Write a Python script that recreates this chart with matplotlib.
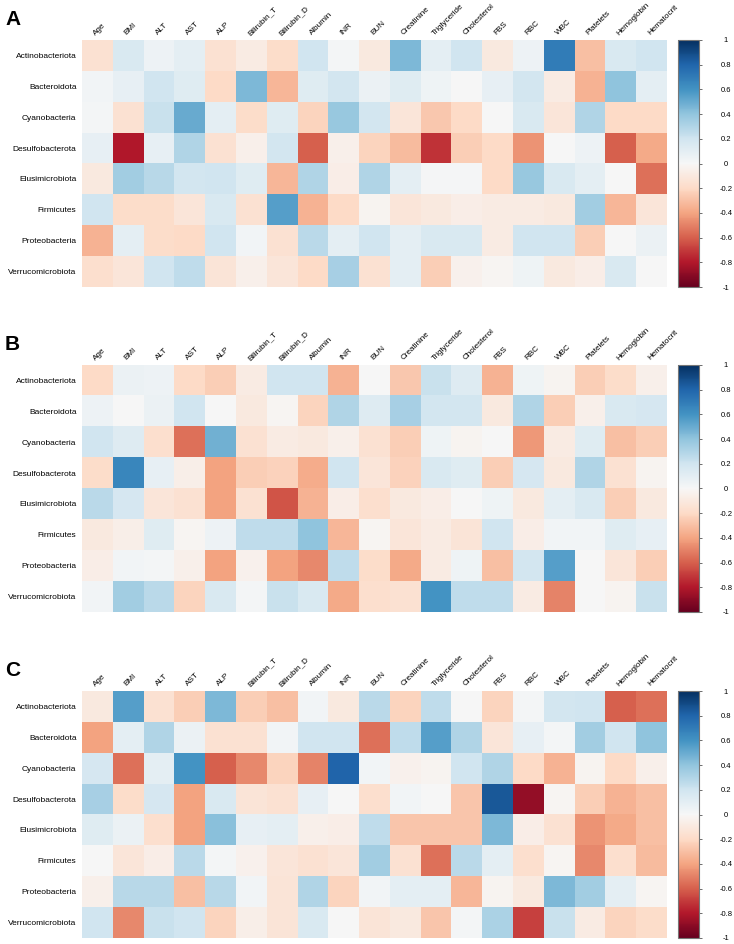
import numpy as np
import matplotlib
matplotlib.use("Agg")
import matplotlib.pyplot as plt

plt.rcParams['font.family'] = ['Liberation Sans', 'DejaVu Sans']

phyla = ["Actinobacteriota", "Bacteroidota", "Cyanobacteria", "Desulfobacterota",
         "Elusimicrobiota", "Firmicutes", "Proteobacteria", "Verrucomicrobiota"]
clinical = ["Age", "BMI", "ALT", "AST", "ALP", "Bilirubin_T", "Bilirubin_D", "Albumin",
            "INR", "BUN", "Creatinine", "Triglyceride", "Cholesterol", "FBS", "RBC",
            "WBC", "Platelets", "Hemoglobin", "Hematocrit"]

corr_a = [
    [-0.15, 0.15, 0.05, 0.10, -0.15, -0.08, -0.18, 0.20, 0.02, -0.10, 0.45, 0.10, 0.20, -0.10, 0.05, 0.70, -0.30, 0.15, 0.20],
    [0.03, 0.08, 0.20, 0.12, -0.20, 0.45, -0.33, 0.12, 0.18, 0.06, 0.12, 0.04, 0.00, 0.08, 0.18, -0.08, -0.35, 0.40, 0.10],
    [0.02, -0.15, 0.22, 0.50, 0.10, -0.18, 0.12, -0.22, 0.38, 0.18, -0.12, -0.27, -0.20, 0.00, 0.15, -0.12, 0.30, -0.20, -0.20],
    [0.08, -0.80, 0.08, 0.30, -0.15, -0.05, 0.18, -0.60, -0.05, -0.22, -0.32, -0.72, -0.25, -0.20, -0.45, 0.00, 0.05, -0.60, -0.38],
    [-0.10, 0.35, 0.28, 0.18, 0.20, 0.12, -0.33, 0.30, -0.07, 0.30, 0.10, 0.01, 0.01, -0.20, 0.38, 0.15, 0.10, 0.00, -0.55],
    [0.20, -0.18, -0.18, -0.12, 0.15, -0.15, 0.55, -0.35, -0.20, -0.03, -0.12, -0.10, -0.07, -0.08, -0.08, -0.10, 0.35, -0.33, -0.12],
    [-0.35, 0.10, -0.18, -0.20, 0.20, 0.03, -0.15, 0.27, 0.10, 0.20, 0.10, 0.15, 0.15, -0.08, 0.20, 0.20, -0.25, 0.00, 0.06],
    [-0.17, -0.12, 0.20, 0.25, -0.13, -0.05, -0.12, -0.20, 0.33, -0.15, 0.10, -0.25, -0.04, -0.02, 0.04, -0.10, -0.07, 0.15, 0.00],
]

corr_b = [
    [-0.20, 0.06, 0.05, -0.20, -0.25, -0.08, 0.20, 0.20, -0.35, 0.00, -0.27, 0.22, 0.13, -0.35, 0.04, -0.03, -0.25, -0.18, -0.05],
    [0.05, 0.00, 0.06, 0.20, 0.00, -0.10, -0.02, -0.22, 0.30, 0.13, 0.33, 0.18, 0.18, -0.10, 0.30, -0.25, -0.05, 0.15, 0.17],
    [0.20, 0.13, -0.17, -0.55, 0.48, -0.15, -0.08, -0.10, -0.05, -0.15, -0.25, 0.04, -0.03, 0.00, -0.43, -0.08, 0.12, -0.30, -0.25],
    [-0.18, 0.65, 0.08, -0.06, -0.40, -0.25, -0.23, -0.37, 0.20, -0.12, -0.23, 0.15, 0.12, -0.25, 0.17, -0.10, 0.30, -0.15, -0.03],
    [0.27, 0.17, -0.12, -0.15, -0.40, -0.15, -0.63, -0.35, -0.07, -0.17, -0.10, -0.07, 0.00, 0.04, -0.10, 0.10, 0.15, -0.25, -0.10],
    [-0.10, -0.06, 0.12, -0.02, 0.05, 0.25, 0.25, 0.40, -0.33, -0.02, -0.12, -0.08, -0.13, 0.20, -0.07, 0.03, 0.03, 0.12, 0.08],
    [-0.07, 0.03, 0.02, -0.05, -0.40, -0.04, -0.40, -0.48, 0.25, -0.18, -0.38, -0.08, 0.04, -0.30, 0.18, 0.55, 0.00, -0.12, -0.25],
    [0.03, 0.35, 0.27, -0.22, 0.15, 0.02, 0.22, 0.15, -0.38, -0.17, -0.15, 0.60, 0.25, 0.25, -0.08, -0.50, 0.00, -0.03, 0.22],
]

corr_c = [
    [-0.10, 0.55, -0.15, -0.25, 0.45, -0.25, -0.30, 0.03, -0.10, 0.27, -0.22, 0.25, 0.00, -0.22, 0.02, 0.18, 0.20, -0.60, -0.55],
    [-0.40, 0.10, 0.30, 0.06, -0.15, -0.15, 0.03, 0.20, 0.20, -0.55, 0.25, 0.55, 0.30, -0.12, 0.08, 0.02, 0.35, 0.20, 0.40],
    [0.17, -0.55, 0.10, 0.60, -0.60, -0.48, -0.22, -0.50, 0.80, 0.03, -0.04, -0.03, 0.20, 0.30, -0.20, -0.35, -0.03, -0.20, -0.05],
    [0.33, -0.18, 0.17, -0.40, 0.15, -0.13, -0.15, 0.08, 0.00, -0.17, 0.03, 0.00, -0.28, 0.85, -0.88, -0.02, -0.25, -0.35, -0.30],
    [0.12, 0.06, -0.17, -0.40, 0.42, 0.08, 0.10, -0.05, -0.07, 0.25, -0.28, -0.28, -0.28, 0.45, -0.07, -0.15, -0.45, -0.38, -0.30],
    [0.00, -0.12, -0.07, 0.27, 0.02, -0.04, -0.12, -0.15, -0.12, 0.35, -0.15, -0.55, 0.27, 0.10, -0.17, -0.02, -0.48, -0.17, -0.32],
    [-0.05, 0.28, 0.28, -0.30, 0.28, 0.03, -0.13, 0.30, -0.22, 0.03, 0.10, 0.10, -0.33, -0.03, -0.10, 0.45, 0.35, 0.10, -0.02],
    [0.20, -0.48, 0.22, 0.20, -0.22, -0.06, -0.13, 0.15, 0.00, -0.13, -0.10, -0.28, 0.02, 0.32, -0.68, 0.22, -0.08, -0.22, -0.18],
]

panels = ["A", "B", "C"]
tops = [40, 365, 691]
W, H = 734, 944


def px_axes(fig, left, top, width, height):
    return fig.add_axes([left / W, (H - top - height) / H, width / W, height / H])


fig = plt.figure(figsize=(W / 100, H / 100), dpi=100)

for letter, top, data in zip(panels, tops, [corr_a, corr_b, corr_c]):
    mat = np.array(data)
    ax = px_axes(fig, 82, top, 585, 247)
    im = ax.imshow(mat, cmap="RdBu", vmin=-1, vmax=1, aspect="auto", interpolation="nearest")
    ax.set_xlim(-0.5, len(clinical) - 0.5)
    ax.set_ylim(len(phyla) - 0.5, -0.5)
    for s in ax.spines.values():
        s.set_visible(False)
    ax.set_xticks([])
    ax.set_yticks(range(len(phyla)))
    ax.set_yticklabels(phyla, fontsize=6.0)
    ax.tick_params(axis="y", length=0, pad=4)
    for j, name in enumerate(clinical):
        ax.text(j, -0.6, name, rotation=45, rotation_mode="anchor",
                ha="left", va="bottom", fontsize=5.9)

    cax = px_axes(fig, 678, top, 21, 247)
    cb = fig.colorbar(im, cax=cax)
    cb.outline.set_edgecolor("#777777")
    cb.outline.set_linewidth(0.8)
    ticks = [1, 0.8, 0.6, 0.4, 0.2, 0, -0.2, -0.4, -0.6, -0.8, -1]
    cb.set_ticks(ticks)
    cb.set_ticklabels(["%g" % t for t in ticks])
    cax.tick_params(length=2.5, width=0.6, color="#555555", labelsize=5.5, pad=17)
    for lab in cax.get_yticklabels():
        lab.set_ha("center")

    fig.text(5 / W, 1 - (top - 30) / H, letter, fontsize=15, fontweight="bold",
             ha="left", va="top")

fig.savefig("out.png", dpi=100)
